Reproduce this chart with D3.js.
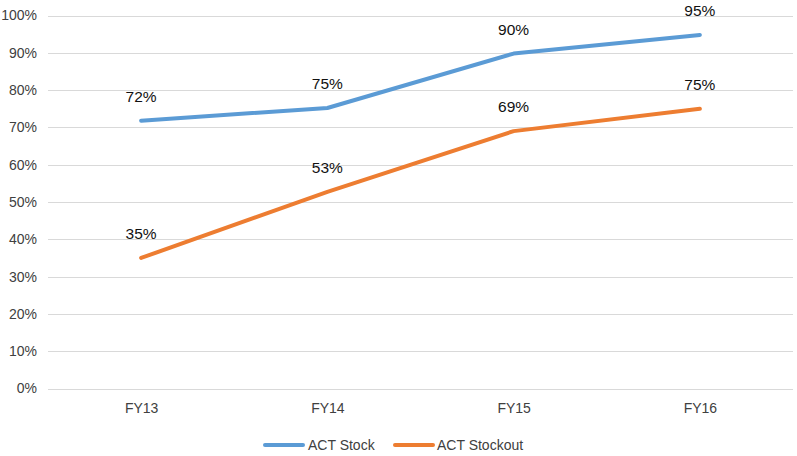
<!DOCTYPE html>
<html>
<head>
<meta charset="utf-8">
<script src="https://cdn.jsdelivr.net/npm/d3@7"></script>
<style>
  body { margin: 0; background: #fff; }
  svg { display: block; font-family: "Liberation Sans", Arial, sans-serif; }
</style>
</head>
<body>
<svg id="chart" width="797" height="456"></svg>
<script>
const categories = ["FY13", "FY14", "FY15", "FY16"];
const stockValues = [0.718, 0.752, 0.898, 0.948];
const stockoutValues = [0.35, 0.527, 0.69, 0.75];
const seriesNames = ["ACT Stock", "ACT Stockout"];
const seriesColors = ["#5B9BD5", "#ED7D31"];
const yTicks = [0, 0.1, 0.2, 0.3, 0.4, 0.5, 0.6, 0.7, 0.8, 0.9, 1.0];

const series = [
  { name: seriesNames[0], values: stockValues, color: seriesColors[0] },
  { name: seriesNames[1], values: stockoutValues, color: seriesColors[1] }
];

const svg = d3.select("#chart");
const plotLeft = 48, plotRight = 793, plotTop = 15.5, plotBottom = 388.5;

const x = d3.scalePoint().domain(categories).range([plotLeft, plotRight]).padding(0.5);
const y = d3.scaleLinear().domain([0, 1]).range([plotBottom, plotTop]);
const fmt = d3.format(".0%");

// gridlines
svg.append("g").selectAll("line").data(yTicks).join("line")
  .attr("x1", plotLeft).attr("x2", plotRight)
  .attr("y1", d => Math.round(y(d)) + 0.5).attr("y2", d => Math.round(y(d)) + 0.5)
  .attr("stroke", "#D9D9D9").attr("stroke-width", 1);

// y axis labels
const yAxis = d3.axisLeft(y).tickValues(yTicks).tickFormat(fmt).tickSize(0).tickPadding(0);
const yg = svg.append("g").attr("transform", `translate(37,0)`).call(yAxis);
yg.select(".domain").remove();
yg.selectAll("text").attr("font-size", 14).attr("fill", "#404040")
  .attr("font-family", "Liberation Sans, Arial, sans-serif");

// x axis labels
const xAxis = d3.axisBottom(x).tickSize(0).tickPadding(0);
const xg = svg.append("g").attr("transform", `translate(0,403)`).call(xAxis);
xg.select(".domain").remove();
xg.selectAll("text").attr("font-size", 14).attr("fill", "#404040")
  .attr("font-family", "Liberation Sans, Arial, sans-serif");

// lines
const line = d3.line().x((d, i) => x(categories[i])).y(d => y(d));
svg.append("g").selectAll("path").data(series).join("path")
  .attr("d", d => line(d.values))
  .attr("fill", "none")
  .attr("stroke", d => d.color)
  .attr("stroke-width", 4)
  .attr("stroke-linecap", "round")
  .attr("stroke-linejoin", "round");

// data labels
series.forEach(s => {
  svg.append("g").selectAll("text").data(s.values).join("text")
    .attr("x", (d, i) => x(categories[i]))
    .attr("y", d => y(d) - 19)
    .attr("text-anchor", "middle")
    .attr("font-size", 15.5)
    .attr("fill", "#111")
    .text(d => fmt(d));
});

// legend
const legendItems = [
  { x1: 265, tx: 308 },
  { x1: 395, tx: 437 }
];
const lg = svg.append("g");
series.forEach((s, i) => {
  const it = legendItems[i];
  lg.append("line")
    .attr("x1", it.x1).attr("x2", it.x1 + 38)
    .attr("y1", 445).attr("y2", 445)
    .attr("stroke", s.color).attr("stroke-width", 4)
    .attr("stroke-linecap", "round");
  lg.append("text")
    .attr("x", it.tx).attr("y", 450)
    .attr("font-size", 14).attr("fill", "#404040")
    .text(s.name);
});
</script>
</body>
</html>
